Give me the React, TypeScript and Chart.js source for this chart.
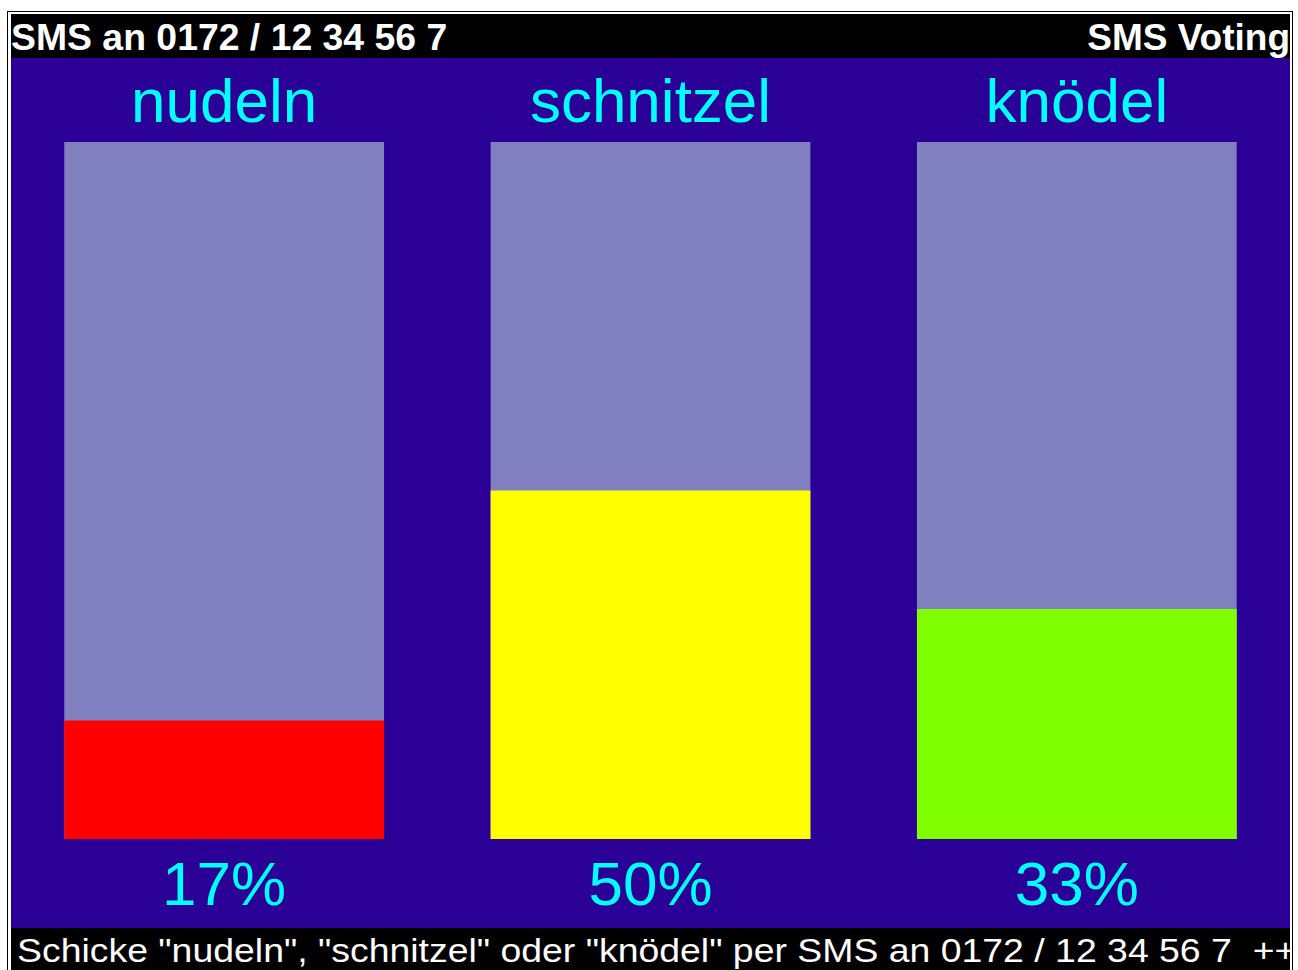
import React, { useEffect, useRef } from "react";
import { Chart, registerables } from "chart.js";

Chart.register(...registerables);

const categories = ["nudeln", "schnitzel", "knödel"];
const values = [17, 50, 33];
const fullScale = [100, 100, 100];
const percentLabels = ["17%", "50%", "33%"];
const barColors = ["#ff0000", "#ffff00", "#80ff00"];
const headerLeft = "SMS an 0172 / 12 34 56 7";
const headerRight = "SMS Voting";
const footerText = 'Schicke "nudeln", "schnitzel" oder "knödel" per SMS an 0172 / 12 34 56 7  ++';

const FONT = '"Liberation Sans", Arial, sans-serif';

const labelPlugin = {
  id: "stretchLabels",
  afterDraw(chart: any) {
    const ctx = chart.ctx;
    const xs = chart.scales.x;
    const area = chart.chartArea;
    ctx.save();
    ctx.fillStyle = "#00ffff";
    ctx.textAlign = "center";
    ctx.textBaseline = "alphabetic";
    categories.forEach((c, i) => {
      const x = xs.getPixelForValue(i);
      ctx.font = `62px ${FONT}`;
      ctx.fillText(c, x, area.top - 20);
    });
    percentLabels.forEach((p, i) => {
      const x = xs.getPixelForValue(i);
      ctx.font = `62px ${FONT}`;
      ctx.fillText(p, x, area.bottom + 66);
    });
    ctx.restore();
  },
};

function VotingChart() {
  const ref = useRef<HTMLCanvasElement>(null);
  useEffect(() => {
    if (!ref.current) return;
    const chart = new Chart(ref.current, {
      type: "bar",
      data: {
        labels: categories,
        datasets: [
          {
            label: "Stimmen",
            data: values,
            backgroundColor: barColors,
            borderWidth: 0,
            grouped: false,
            order: 0,
          },
          {
            label: "Rest",
            data: fullScale,
            backgroundColor: "#8080c0",
            borderWidth: 0,
            grouped: false,
            order: 1,
          },
        ],
      },
      options: {
        responsive: false,
        animation: false,
        layout: { padding: { top: 84, bottom: 89, left: 0, right: 0 } },
        datasets: { bar: { categoryPercentage: 1, barPercentage: 0.75 } } as any,
        plugins: { legend: { display: false }, tooltip: { enabled: false }, title: { display: false } },
        scales: {
          x: { display: false, offset: true },
          y: { display: false, min: 0, max: 100 },
        },
      },
      plugins: [labelPlugin],
    });
    return () => chart.destroy();
  }, []);
  return <canvas ref={ref} width={1279} height={870} style={{ display: "block" }} />;
}

export default function App() {
  const stretch = (origin: string, sx: number): React.CSSProperties => ({
    display: "inline-block",
    transform: `scaleX(${sx})`,
    transformOrigin: origin,
    whiteSpace: "pre",
  });
  return (
    <div
      style={{
        position: "absolute",
        left: 7,
        top: 11,
        width: 1286,
        boxSizing: "border-box",
        border: "1px solid #000",
        borderBottom: "none",
        padding: "2px 2px 0 3px",
        background: "#fff",
        overflow: "hidden",
      }}
    >
      <div
        style={{
          height: 44,
          background: "#000",
          color: "#fff",
          fontFamily: FONT,
          fontWeight: "bold",
          fontSize: 37,
          lineHeight: "48px",
          position: "relative",
          overflow: "hidden",
        }}
      >
        <span style={{ position: "absolute", left: 0, top: 0 }}>
          <span style={stretch("left center", 1.01)}>{headerLeft}</span>
        </span>
        <span style={{ position: "absolute", right: 0, top: 0 }}>
          <span style={stretch("right center", 1.0)}>{headerRight}</span>
        </span>
      </div>
      <div style={{ height: 870, background: "#2a0096" }}>
        <VotingChart />
      </div>
      <div
        style={{
          height: 42,
          boxSizing: "border-box",
          background: "#000",
          color: "#fff",
          fontFamily: FONT,
          fontSize: 34,
          lineHeight: "44px",
          overflow: "hidden",
          paddingLeft: 6,
          whiteSpace: "pre",
        }}
      >
        <span style={stretch("left center", 1.1)}>{footerText}</span>
      </div>
    </div>
  );
}
